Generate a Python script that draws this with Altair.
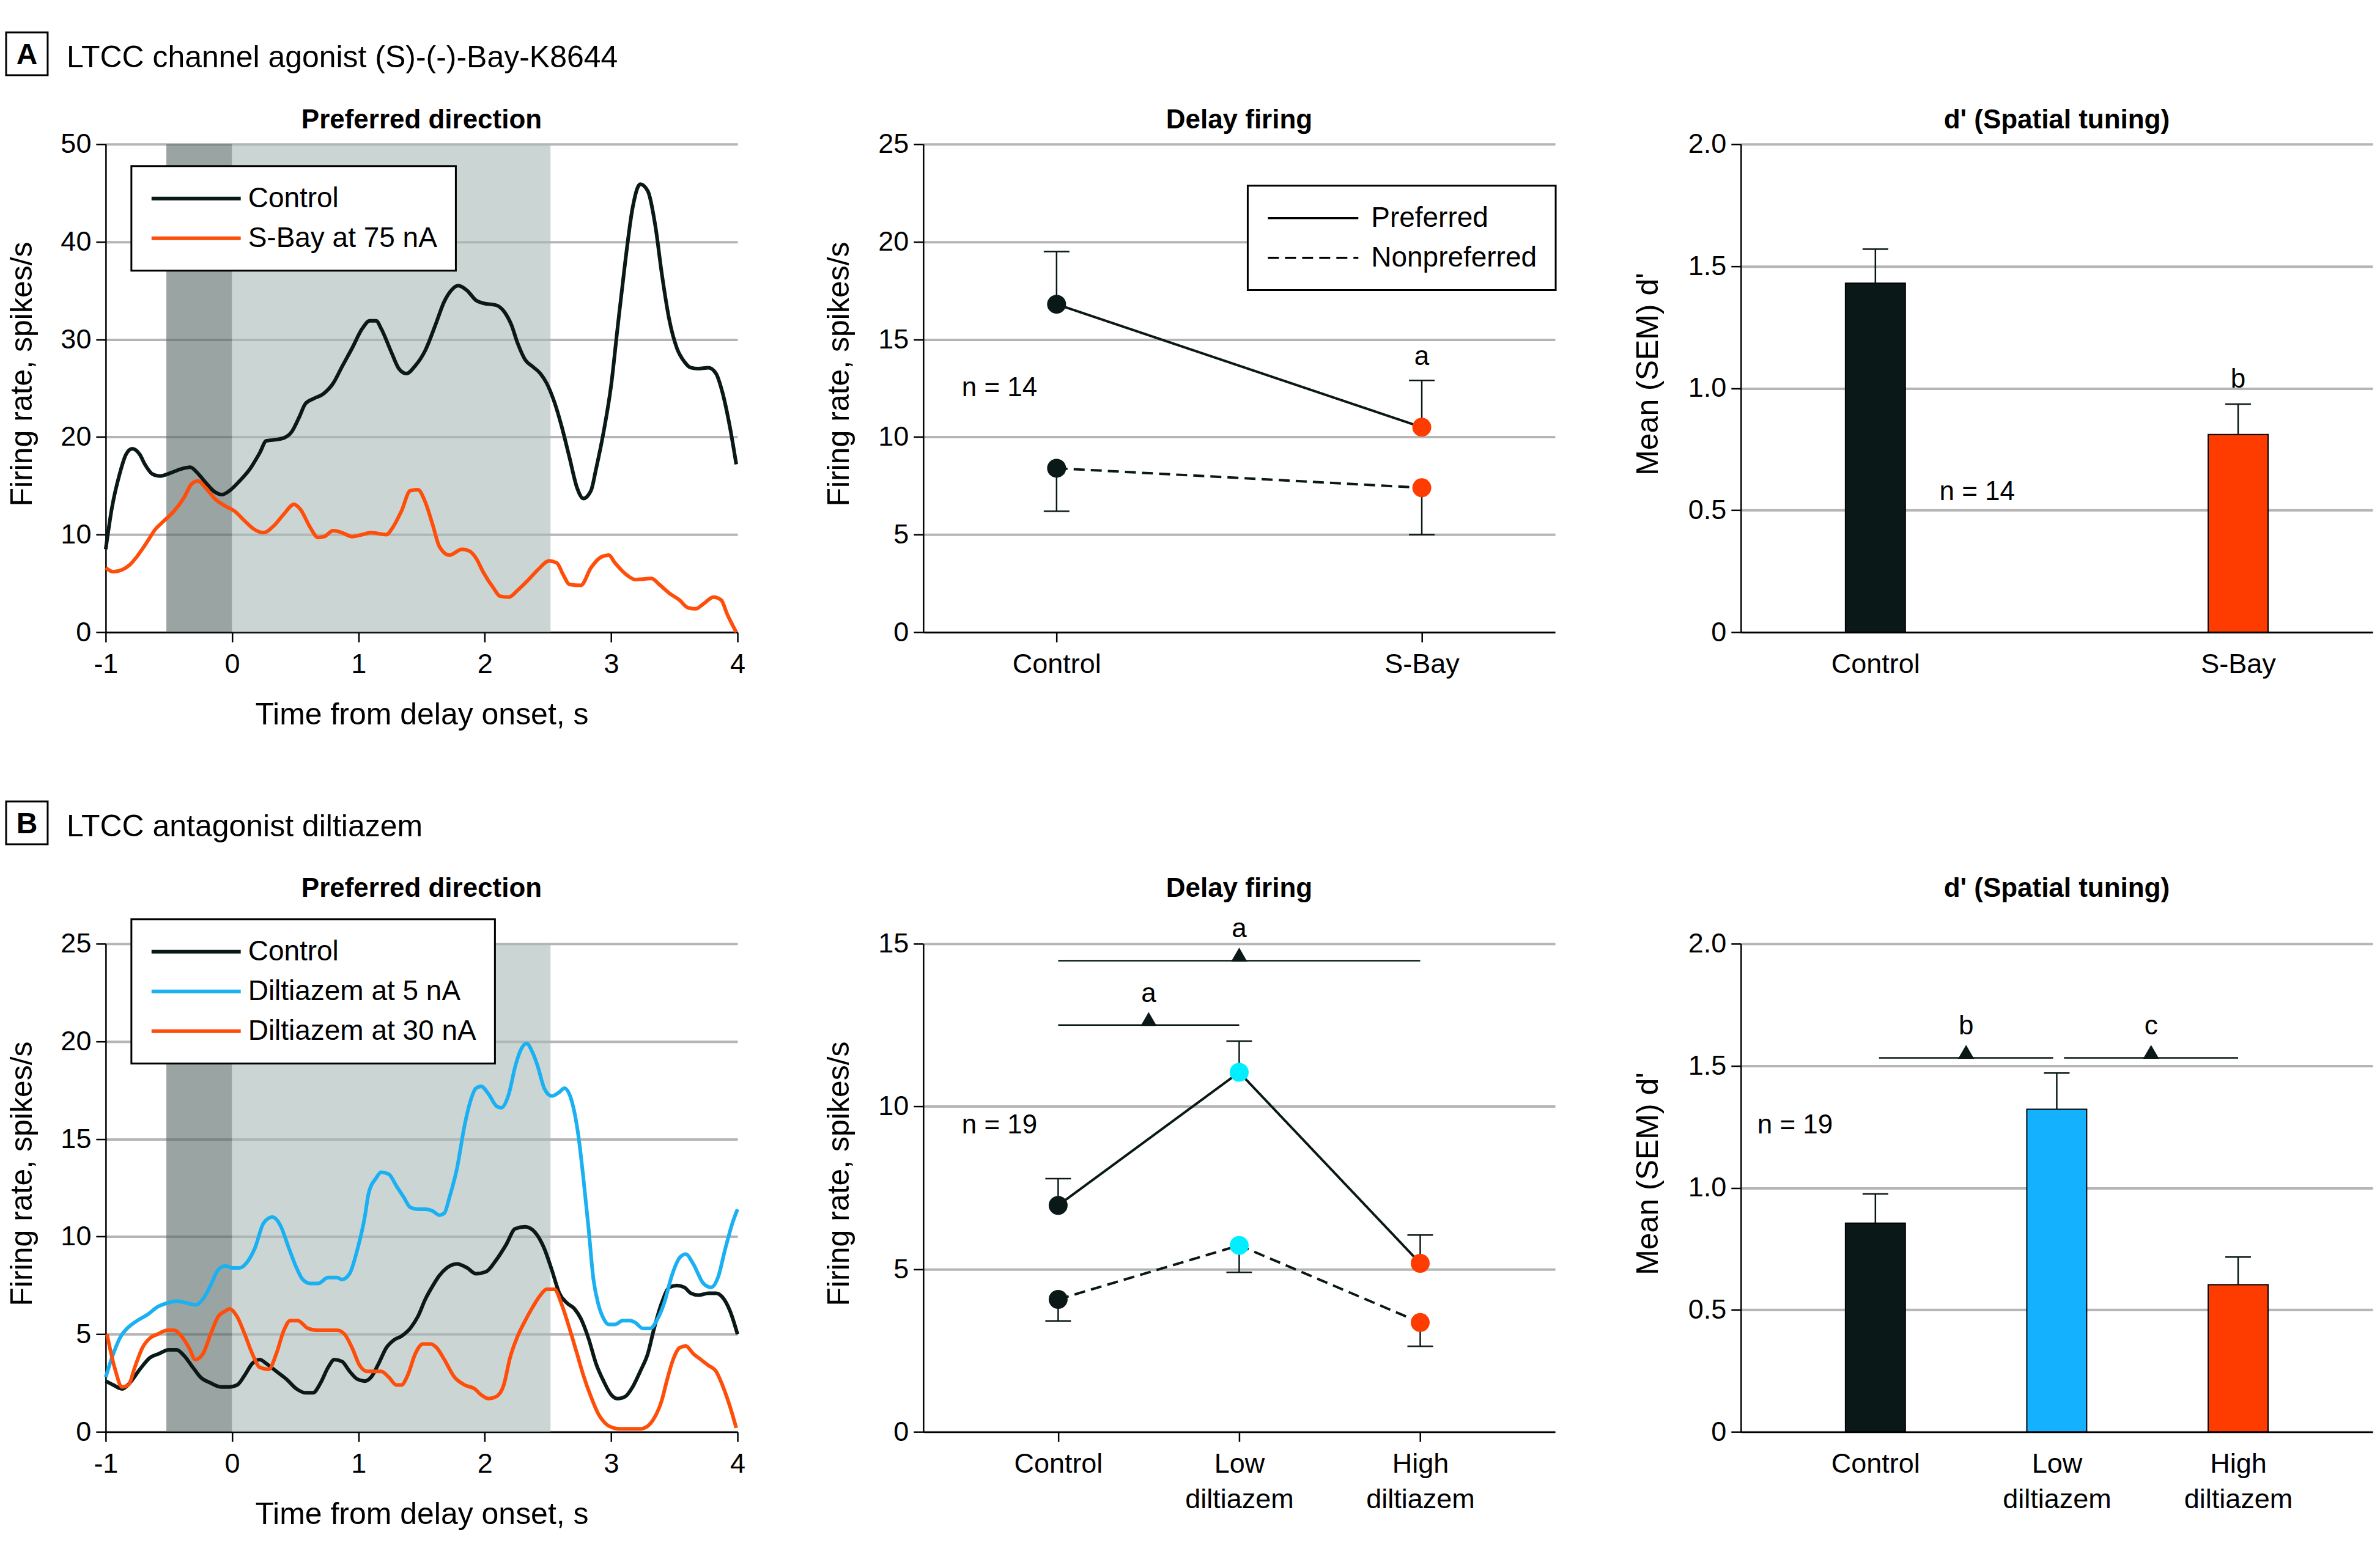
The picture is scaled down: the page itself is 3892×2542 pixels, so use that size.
import json
import altair as alt
import pandas as pd

FONT = "Liberation Sans"
W, H = 1034, 799
BLACK = "#0a1917"
ORANGE = "#ff4d0a"
ORANGE_FILL = "#ff3c00"
BLUE = "#1ab0f2"
BLUE_FILL = "#14b1ff"
CYAN = "#00eeff"
GRID = "#b5b5b5"
SHADE_DARK = "#576966"
SHADE_LIGHT = "#a8bbb7"

# ---------------- data ----------------
TIME_TICKS = [-1, 0, 1, 2, 3, 4]
SHADE_START = [-0.52, 0.0]
SHADE_END = [0.0, 2.52]
SHADE_KIND = ["sample", "delay"]

A_SERIES = ["Control", "S-Bay at 75 nA"]
A_CTRL_T = [-1.00, -0.95, -0.89, -0.84, -0.79, -0.73, -0.69, -0.63, -0.57, -0.49, -0.41, -0.33, -0.28, -0.22,
            -0.14, -0.08, -0.02, 0.06, 0.14, 0.22, 0.27, 0.33, 0.41, 0.47, 0.53, 0.58, 0.64, 0.72, 0.80, 0.87,
            0.95, 1.03, 1.09, 1.14, 1.18, 1.26, 1.32, 1.38, 1.45, 1.53, 1.61, 1.68, 1.74, 1.79, 1.86, 1.93,
            1.99, 2.09, 2.15, 2.21, 2.26, 2.32, 2.38, 2.44, 2.49, 2.55, 2.61, 2.67, 2.73, 2.78, 2.84, 2.88,
            2.94, 3.00, 3.05, 3.11, 3.17, 3.23, 3.29, 3.35, 3.40, 3.46, 3.52, 3.58, 3.63, 3.69, 3.77, 3.83,
            3.88, 3.94, 3.99]
A_CTRL_V = [8.5, 12.8, 16.2, 18.2, 18.8, 18.2, 17.2, 16.2, 16.0, 16.3, 16.7, 16.9, 16.4, 15.5,
            14.4, 14.1, 14.5, 15.5, 16.7, 18.4, 19.6, 19.7, 19.9, 20.5, 22.0, 23.4, 23.9, 24.4, 25.5, 27.2,
            29.1, 31.1, 31.9, 31.9, 31.1, 28.7, 27.0, 26.5, 27.3, 28.9, 31.5, 33.9, 35.1, 35.5, 35.0, 34.0,
            33.7, 33.5, 32.9, 31.5, 29.6, 27.9, 27.2, 26.5, 25.5, 23.6, 21.0, 17.9, 14.8, 13.7, 14.5, 16.7,
            20.5, 25.3, 31.1, 37.8, 43.5, 45.9, 45.2, 41.6, 36.8, 32.0, 29.1, 27.7, 27.1, 27.0, 27.1, 26.5,
            24.6, 21.0, 17.2]
A_SBAY_T = [-1.00, -0.94, -0.87, -0.81, -0.75, -0.67, -0.61, -0.54, -0.46, -0.38, -0.32, -0.27, -0.21, -0.13,
            -0.05, 0.02, 0.10, 0.18, 0.25, 0.33, 0.41, 0.49, 0.54, 0.62, 0.68, 0.73, 0.80, 0.87, 0.95, 1.03,
            1.10, 1.22, 1.27, 1.34, 1.41, 1.47, 1.53, 1.59, 1.64, 1.72, 1.82, 1.88, 1.93, 1.99, 2.07, 2.12,
            2.19, 2.26, 2.34, 2.42, 2.51, 2.57, 2.62, 2.67, 2.76, 2.84, 2.92, 2.98, 3.03, 3.13, 3.19, 3.32,
            3.38, 3.46, 3.54, 3.61, 3.67, 3.73, 3.81, 3.87, 3.92, 3.99]
A_SBAY_V = [6.6, 6.2, 6.4, 6.9, 7.8, 9.3, 10.5, 11.4, 12.4, 13.8, 15.2, 15.5, 14.8, 13.6,
            12.9, 12.4, 11.4, 10.5, 10.2, 10.9, 12.1, 13.1, 12.6, 10.7, 9.7, 9.8, 10.4, 10.2, 9.8, 10.0,
            10.2, 10.0, 10.7, 12.4, 14.5, 14.6, 13.3, 10.9, 8.8, 7.9, 8.5, 8.3, 7.6, 6.1, 4.5, 3.7,
            3.6, 4.3, 5.3, 6.4, 7.3, 7.1, 5.9, 4.9, 4.8, 6.6, 7.7, 7.9, 7.1, 5.8, 5.4, 5.5,
            4.9, 4.0, 3.3, 2.5, 2.4, 2.9, 3.6, 3.3, 1.8, 0.0]

B_SERIES = ["Control", "Diltiazem at 5 nA", "Diltiazem at 30 nA"]
B_CTRL_T = [-1.00, -0.94, -0.87, -0.81, -0.73, -0.65, -0.58, -0.50, -0.44, -0.38, -0.31, -0.25, -0.17, -0.09,
            -0.02, 0.04, 0.10, 0.16, 0.22, 0.27, 0.35, 0.43, 0.51, 0.58, 0.64, 0.70, 0.76, 0.81, 0.87, 0.93,
            0.99, 1.05, 1.10, 1.16, 1.22, 1.28, 1.34, 1.41, 1.47, 1.53, 1.59, 1.64, 1.70, 1.78, 1.86, 1.93,
            2.01, 2.09, 2.17, 2.24, 2.32, 2.40, 2.47, 2.53, 2.59, 2.65, 2.71, 2.76, 2.82, 2.88, 2.94, 3.00,
            3.05, 3.11, 3.17, 3.23, 3.29, 3.34, 3.40, 3.46, 3.52, 3.58, 3.63, 3.69, 3.77, 3.83, 3.88, 3.94, 4.00]
B_CTRL_V = [2.6, 2.4, 2.2, 2.5, 3.2, 3.8, 4.0, 4.2, 4.2, 3.9, 3.3, 2.8, 2.5, 2.3,
            2.3, 2.4, 2.9, 3.5, 3.7, 3.5, 3.1, 2.7, 2.2, 2.0, 2.0, 2.5, 3.3, 3.7, 3.6, 3.1,
            2.7, 2.6, 2.8, 3.5, 4.3, 4.7, 4.9, 5.3, 5.9, 6.8, 7.5, 8.0, 8.4, 8.6, 8.4, 8.1,
            8.2, 8.8, 9.6, 10.4, 10.5, 10.2, 9.4, 8.3, 7.1, 6.6, 6.3, 5.8, 4.8, 3.5, 2.6, 1.9,
            1.7, 1.8, 2.3, 3.1, 4.0, 5.3, 6.6, 7.4, 7.5, 7.4, 7.1, 7.0, 7.1, 7.1, 6.9, 6.2, 5.0]
B_LOW_T = [-1.00, -0.94, -0.88, -0.83, -0.75, -0.67, -0.59, -0.51, -0.44, -0.36, -0.29, -0.23, -0.17, -0.11,
           -0.05, 0.00, 0.06, 0.12, 0.18, 0.25, 0.32, 0.38, 0.45, 0.51, 0.56, 0.62, 0.68, 0.76, 0.83, 0.87,
           0.93, 0.99, 1.05, 1.08, 1.14, 1.18, 1.24, 1.30, 1.36, 1.41, 1.47, 1.53, 1.59, 1.64, 1.68, 1.72,
           1.78, 1.84, 1.88, 1.93, 1.97, 2.03, 2.09, 2.13, 2.19, 2.24, 2.28, 2.33, 2.38, 2.42, 2.47, 2.53,
           2.59, 2.63, 2.69, 2.74, 2.78, 2.82, 2.86, 2.90, 2.94, 2.98, 3.03, 3.09, 3.15, 3.19, 3.25, 3.31,
           3.36, 3.42, 3.48, 3.54, 3.59, 3.65, 3.73, 3.79, 3.85, 3.90, 3.96, 4.00]
B_LOW_V = [2.8, 4.0, 4.9, 5.3, 5.7, 6.0, 6.4, 6.6, 6.7, 6.6, 6.5, 6.8, 7.5, 8.3,
           8.5, 8.4, 8.4, 8.7, 9.4, 10.7, 11.0, 10.6, 9.4, 8.4, 7.8, 7.6, 7.6, 7.9, 7.9, 7.8,
           8.1, 9.3, 11.0, 12.2, 13.0, 13.3, 13.2, 12.6, 12.0, 11.5, 11.4, 11.4, 11.3, 11.1, 11.2, 12.0,
           13.5, 15.7, 16.8, 17.6, 17.7, 17.3, 16.7, 16.6, 17.3, 18.7, 19.5, 19.9, 19.4, 18.7, 17.6, 17.2,
           17.4, 17.6, 16.9, 15.2, 13.0, 10.5, 7.8, 6.5, 5.8, 5.5, 5.5, 5.7, 5.7, 5.6, 5.3, 5.3,
           5.7, 6.6, 8.0, 8.9, 9.1, 8.6, 7.6, 7.4, 8.0, 9.3, 10.7, 11.4]
B_HIGH_T = [-0.99, -0.93, -0.87, -0.82, -0.77, -0.71, -0.65, -0.59, -0.51, -0.46, -0.40, -0.34, -0.29, -0.23,
            -0.17, -0.11, -0.05, -0.02, 0.04, 0.10, 0.16, 0.22, 0.29, 0.35, 0.41, 0.46, 0.52, 0.60, 0.68, 0.76,
            0.83, 0.89, 0.95, 1.01, 1.07, 1.12, 1.18, 1.24, 1.30, 1.34, 1.39, 1.45, 1.51, 1.57, 1.62, 1.68,
            1.76, 1.84, 1.92, 1.97, 2.03, 2.09, 2.15, 2.20, 2.26, 2.32, 2.38, 2.44, 2.49, 2.55, 2.61, 2.67,
            2.73, 2.78, 2.84, 2.90, 2.96, 3.02, 3.07, 3.15, 3.23, 3.29, 3.34, 3.40, 3.44, 3.49, 3.54, 3.59,
            3.65, 3.71, 3.77, 3.83, 3.88, 3.94, 3.99]
B_HIGH_V = [5.0, 3.3, 2.3, 2.4, 3.3, 4.3, 4.8, 5.0, 5.2, 5.2, 4.9, 4.3, 3.7, 4.0,
            5.0, 5.9, 6.2, 6.3, 5.9, 5.0, 4.0, 3.3, 3.2, 4.0, 5.2, 5.7, 5.7, 5.3, 5.2, 5.2,
            5.2, 5.0, 4.3, 3.4, 3.1, 3.1, 3.1, 2.8, 2.4, 2.4, 2.9, 4.0, 4.5, 4.5, 4.3, 3.7,
            2.8, 2.4, 2.2, 1.9, 1.7, 1.8, 2.4, 3.8, 4.9, 5.7, 6.4, 7.0, 7.3, 7.3, 6.5, 5.3,
            4.0, 2.9, 1.8, 0.9, 0.4, 0.2, 0.15, 0.15, 0.15, 0.3, 0.7, 1.6, 2.6, 3.7, 4.3, 4.4,
            4.0, 3.7, 3.4, 3.1, 2.4, 1.3, 0.2]

A_CONDS = ["Control", "S-Bay"]
A_COND_LABELS = ["Control", "S-Bay"]
B_CONDS = ["Control", "Low diltiazem", "High diltiazem"]
B_COND_LABELS = [["Control"], ["Low", "diltiazem"], ["High", "diltiazem"]]
DASH_SERIES = ["Preferred", "Nonpreferred"]

A_PREF = [16.8, 10.5]
A_PREF_SEM = [2.7, 2.4]
A_NONPREF = [8.4, 7.4]
A_NONPREF_SEM = [2.2, 2.4]
B_PREF = [6.96, 11.05, 5.18]
B_PREF_SEM = [0.82, 0.96, 0.87]
B_NONPREF = [4.07, 5.73, 3.36]
B_NONPREF_SEM = [0.66, 0.83, 0.73]

A_DPRIME = [1.43, 0.81]
A_DPRIME_SEM = [0.14, 0.125]
B_DPRIME = [0.855, 1.322, 0.603]
B_DPRIME_SEM = [0.12, 0.148, 0.113]

# significance annotations
A2_SIG_X, A2_SIG_Y, A2_SIG_TXT = [1], [14.1], ["a"]
A3_SIG_X, A3_SIG_Y, A3_SIG_TXT = [1], [1.035], ["b"]
B2_BR_X1, B2_BR_X2, B2_BR_Y = [0, 0], [1, 2], [12.5, 14.48]
B2_TRI_X = [0.5, 1.0]
B2_SIG_Y, B2_SIG_TXT = [13.45, 15.44], ["a", "a"]
B3_BR_X1, B3_BR_X2, B3_BR_Y = [0.02, 1.04], [0.98, 2.0], [1.532, 1.532]
B3_TRI_X = [0.5, 1.52]
B3_SIG_Y, B3_SIG_TXT = [1.662, 1.662], ["b", "c"]


# ---------------- helpers ----------------
def one_text(txt, x, y, size=44, weight="normal", align="center", baseline="alphabetic"):
    return alt.Chart(pd.DataFrame({"label": [txt]})).mark_text(
        font=FONT, fontSize=size, fontWeight=weight, align=align, baseline=baseline, color="black"
    ).encode(x=alt.value(x), y=alt.value(y), text="label:N")


def header(letter, text, top):
    box = alt.Chart(pd.DataFrame({"label": [letter]})).mark_rect(
        fill="white", stroke="black", strokeWidth=3
    ).encode(x=alt.value(-163), x2=alt.value(-95), y=alt.value(top), y2=alt.value(top + 70))
    return [box,
            one_text(letter, -129, top + 52, size=48, weight="bold"),
            one_text(text, -64, top + 57, size=50, align="left")]


def line_legend(x, y, sw, half=3.65, sym_off=53, lab_off=62):
    return alt.Legend(title=None, orient="none", legendX=x, legendY=y, direction="vertical",
                      strokeColor="black", fillColor="white", padding=30, rowPadding=19,
                      symbolType=f"M-{half},0L{half},0", symbolSize=1600, symbolStrokeWidth=sw,
                      symbolStrokeColor="black", symbolOffset=sym_off, labelOffset=lab_off,
                      labelFont=FONT, labelFontSize=46, labelLimit=2000, labelColor="black")


def y_enc(domain, values, title, title_x, label_expr=None):
    ax = dict(values=values, title=title, grid=True, titleX=title_x, titleY=376,
              titleBaseline="alphabetic")
    if label_expr:
        ax["labelExpr"] = label_expr
    return alt.Y("v:Q", scale=alt.Scale(domain=domain, nice=False, zero=True), axis=alt.Axis(**ax))


def time_x():
    return alt.X("x:Q", scale=alt.Scale(domain=[-1, 4], nice=False, zero=False),
                 axis=alt.Axis(values=TIME_TICKS, title="Time from delay onset, s",
                               labelExpr="datum.value + ''", grid=False, titleY=150,
                               titleBaseline="alphabetic"))


def cat_x(labels, pad, ticks=True):
    n = len(labels)
    ax = dict(values=list(range(n)), title=None, grid=False,
              labelExpr=json.dumps(labels) + "[datum.value]", labelLineHeight=58)
    if not ticks:
        ax.update(ticks=False, tickSize=0, labelPadding=30)
    return alt.X("x:Q", scale=alt.Scale(domain=[-pad, n - 1 + pad], nice=False, zero=False),
                 axis=alt.Axis(**ax))


def rate_panel(ts, vs, names, colors, ymax, yvals, legend_y, title_y, extra):
    df = pd.concat([pd.DataFrame({"x": t, "v": v, "series": n}) for t, v, n in zip(ts, vs, names)],
                   ignore_index=True)
    X = time_x()
    Y = y_enc([0, ymax], yvals, "Firing rate, spikes/s", -121)
    shade = alt.Chart(pd.DataFrame({"x": SHADE_START, "x2": SHADE_END, "kind": SHADE_KIND})).mark_rect(
        opacity=0.6
    ).encode(x=X, x2=alt.X2("x2"), y=alt.value(0), y2=alt.value(H),
             fill=alt.Fill("kind:N", scale=alt.Scale(domain=SHADE_KIND, range=[SHADE_DARK, SHADE_LIGHT]),
                           legend=None))
    lines = alt.Chart(df).mark_line(strokeWidth=6, interpolate="monotone").encode(
        x=X, y=Y,
        color=alt.Color("series:N", scale=alt.Scale(domain=names, range=colors), sort=names,
                        legend=line_legend(42, legend_y, 6)))
    return alt.layer(shade, lines, one_text("Preferred direction", W / 2, title_y, weight="bold"),
                     *extra).properties(width=W, height=H)


def delay_panel(labels, pad, drugs, drug_colors, pref, pref_sem, nonpref, nonpref_sem,
                ymax, yvals, n_text, n_x, n_y, legend, title_y, sig, brackets=None):
    n = len(drugs)
    idx = list(range(n))
    v = pref + nonpref
    ends = [m + s for m, s in zip(pref, pref_sem)] + [m - s for m, s in zip(nonpref, nonpref_sem)]
    df = pd.DataFrame({"x": idx * 2, "v": v, "v2": ends,
                       "series": [DASH_SERIES[0]] * n + [DASH_SERIES[1]] * n, "drug": drugs * 2})
    X = cat_x(labels, pad)
    Y = y_enc([0, ymax], yvals, "Firing rate, spikes/s", -122)
    lines = alt.Chart(df).mark_line(color=BLACK, strokeWidth=4).encode(
        x=X, y=Y,
        strokeDash=alt.StrokeDash("series:N", scale=alt.Scale(domain=DASH_SERIES, range=[[1, 0], [18, 10]]),
                                  sort=DASH_SERIES, legend=legend))
    err = alt.Chart(df).mark_rule(color=BLACK, strokeWidth=2.5).encode(x=X, y=Y, y2=alt.Y2("v2"))
    caps = alt.Chart(pd.DataFrame({"x": idx * 2, "v": ends})).mark_tick(
        orient="horizontal", size=42, thickness=2.5, color=BLACK, opacity=1).encode(x=X, y=Y)
    pts = alt.Chart(df).mark_circle(size=960, opacity=1).encode(
        x=X, y=Y, color=alt.Color("drug:N", scale=alt.Scale(domain=drugs, range=drug_colors), legend=None))
    ntext = alt.Chart(pd.DataFrame({"v": [n_y], "label": [n_text]})).mark_text(
        font=FONT, fontSize=44, align="left", baseline="middle", color="black"
    ).encode(x=alt.value(n_x), y=Y, text="label:N")
    layers = [lines, err, caps, pts, ntext]
    if brackets:
        bx1, bx2, by, tx = brackets
        layers.append(alt.Chart(pd.DataFrame({"x": bx1, "x2": bx2, "v": by})).mark_rule(
            color=BLACK, strokeWidth=2.5).encode(x=X, x2=alt.X2("x2"), y=Y))
        layers.append(alt.Chart(pd.DataFrame({"x": tx, "v": by})).mark_point(
            shape="triangle-up", filled=True, size=700, yOffset=-10, color=BLACK, opacity=1).encode(x=X, y=Y))
    sx, sy, st = sig
    layers.append(alt.Chart(pd.DataFrame({"x": sx, "v": sy, "label": st})).mark_text(
        font=FONT, fontSize=44, align="center", baseline="middle", color="black").encode(x=X, y=Y, text="label:N"))
    layers.append(one_text("Delay firing", W / 2, title_y, weight="bold"))
    return alt.layer(*layers).properties(width=W, height=H)


def dprime_panel(labels, pad, conds, colors, means, sems, n_text, n_x, n_y, title_y, sig, brackets=None):
    n = len(conds)
    idx = list(range(n))
    tops = [m + s for m, s in zip(means, sems)]
    df = pd.DataFrame({"x": idx, "v": means, "v2": tops, "cond": conds})
    X = cat_x(labels, pad, ticks=False)
    Y = y_enc([0, 2], [0, 0.5, 1, 1.5, 2], "Mean (SEM) d'", -136,
              label_expr="datum.value == 0 ? '0' : format(datum.value, '.1f')")
    bars = alt.Chart(df).mark_bar(size=98, stroke="black", strokeWidth=2, orient="vertical").encode(
        x=X, y=Y, color=alt.Color("cond:N", scale=alt.Scale(domain=conds, range=colors), legend=None))
    err = alt.Chart(df).mark_rule(color=BLACK, strokeWidth=2.5).encode(x=X, y=Y, y2=alt.Y2("v2"))
    caps = alt.Chart(pd.DataFrame({"x": idx, "v": tops})).mark_tick(
        orient="horizontal", size=42, thickness=2.5, color=BLACK, opacity=1).encode(x=X, y=Y)
    ntext = alt.Chart(pd.DataFrame({"v": [n_y], "label": [n_text]})).mark_text(
        font=FONT, fontSize=44, align="left", baseline="middle", color="black"
    ).encode(x=alt.value(n_x), y=Y, text="label:N")
    layers = [bars, err, caps, ntext]
    if brackets:
        bx1, bx2, by, tx = brackets
        layers.append(alt.Chart(pd.DataFrame({"x": bx1, "x2": bx2, "v": by})).mark_rule(
            color=BLACK, strokeWidth=2.5).encode(x=X, x2=alt.X2("x2"), y=Y))
        layers.append(alt.Chart(pd.DataFrame({"x": tx, "v": by})).mark_point(
            shape="triangle-up", filled=True, size=700, yOffset=-10, color=BLACK, opacity=1).encode(x=X, y=Y))
    sx, sy, st = sig
    layers.append(alt.Chart(pd.DataFrame({"x": sx, "v": sy, "label": st})).mark_text(
        font=FONT, fontSize=44, align="center", baseline="middle", color="black").encode(x=X, y=Y, text="label:N"))
    layers.append(one_text("d' (Spatial tuning)", W / 2, title_y, weight="bold"))
    return alt.layer(*layers).properties(width=W, height=H)


# ---------------- panels ----------------
a1 = rate_panel([A_CTRL_T, A_SBAY_T], [A_CTRL_V, A_SBAY_V], A_SERIES, [BLACK, ORANGE],
                50, [0, 10, 20, 30, 40, 50], 36, -26,
                header("A", "LTCC channel agonist (S)-(-)-Bay-K8644", -183))
b1 = rate_panel([B_CTRL_T, B_LOW_T, B_HIGH_T], [B_CTRL_V, B_LOW_V, B_HIGH_V], B_SERIES,
                [BLACK, BLUE, ORANGE], 25, [0, 5, 10, 15, 20, 25], -40, -77,
                header("B", "LTCC antagonist diltiazem", -233))

dash_legend = line_legend(531, 68, 3.5, half=3.7, sym_off=54, lab_off=72)

a2 = delay_panel(A_COND_LABELS, 0.365, A_CONDS, [BLACK, ORANGE_FILL], A_PREF, A_PREF_SEM,
                 A_NONPREF, A_NONPREF_SEM, 25, [0, 5, 10, 15, 20, 25], "n = 14", 63, 12.5,
                 dash_legend, -26, (A2_SIG_X, A2_SIG_Y, A2_SIG_TXT))
b2 = delay_panel(B_COND_LABELS, 0.745, B_CONDS, [BLACK, CYAN, ORANGE_FILL], B_PREF, B_PREF_SEM,
                 B_NONPREF, B_NONPREF_SEM, 15, [0, 5, 10, 15], "n = 19", 63, 9.41,
                 None, -77, (B2_TRI_X, B2_SIG_Y, B2_SIG_TXT),
                 brackets=(B2_BR_X1, B2_BR_X2, B2_BR_Y, B2_TRI_X))

a3 = dprime_panel(A_COND_LABELS, 0.3625, A_CONDS, [BLACK, ORANGE_FILL], A_DPRIME, A_DPRIME_SEM,
                  "n = 14", 325, 0.574, -26, (A3_SIG_X, A3_SIG_Y, A3_SIG_TXT))
b3 = dprime_panel(B_COND_LABELS, 0.725, B_CONDS, [BLACK, BLUE_FILL, ORANGE_FILL], B_DPRIME, B_DPRIME_SEM,
                  "n = 19", 27, 1.255, -77, (B3_TRI_X, B3_SIG_Y, B3_SIG_TXT),
                  brackets=(B3_BR_X1, B3_BR_X2, B3_BR_Y, B3_TRI_X))

chart = alt.concat(a1, a2, a3, b1, b2, b3, columns=3,
                   spacing={"row": 510, "column": 304}, bounds="flush").resolve_scale(
    x="independent", y="independent", color="independent", fill="independent", strokeDash="independent"
).resolve_legend(color="independent", strokeDash="independent").properties(
    padding={"left": 0, "top": 42, "right": 4, "bottom": 4}
).configure_view(stroke=None).configure_axis(
    domainColor="black", domainWidth=2.5, tickColor="black", tickWidth=2.5, tickSize=16,
    labelFont=FONT, labelFontSize=45, labelColor="black", labelLimit=1000, labelFlush=False,
    labelOverlap=False, titleFont=FONT, titleFontSize=50, titleFontWeight="normal", titleColor="black",
    titleLimit=2000, gridColor=GRID, gridWidth=4
).configure_axisX(labelPadding=14).configure_axisY(labelPadding=8).configure_legend(strokeWidth=3)

chart.save("out.html", embed_options={"renderer": "svg", "actions": False})
